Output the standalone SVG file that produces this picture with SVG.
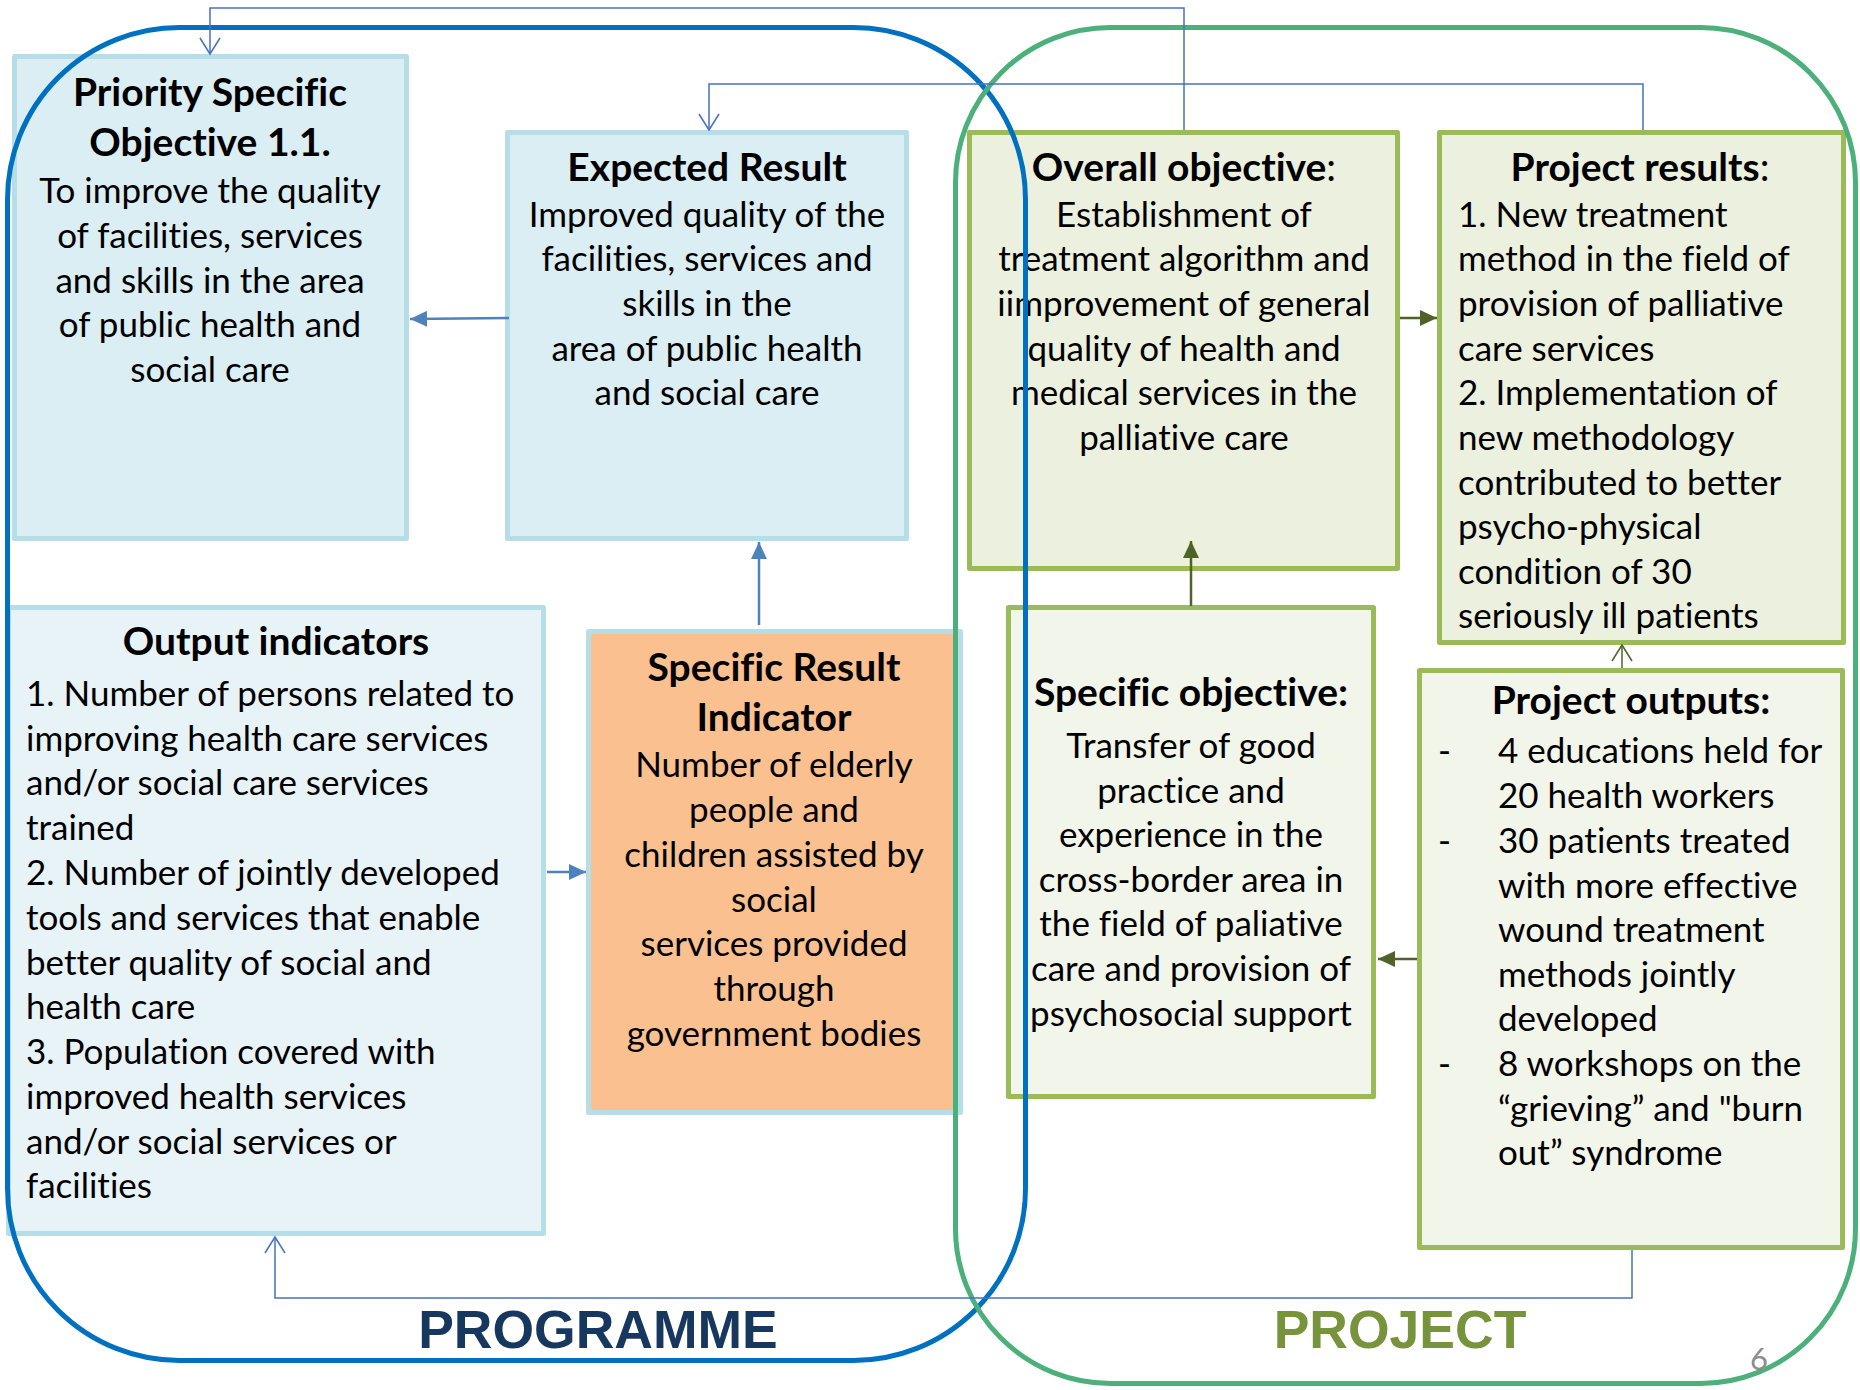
<svg xmlns="http://www.w3.org/2000/svg" width="1860" height="1390" viewBox="0 0 1860 1390">
<style>
.bx{stroke-width:5;stroke-linejoin:round}
.pb{fill:#DAEEF3;stroke:#B7DDE8}
.po{fill:#E8F3F8;stroke:#B7DDE8}
.or{fill:#FAC090;stroke:#B7DDE8}
.gb{fill:#EBF1DE;stroke:#9BBB59}
.gl{fill:#F1F5EA;stroke:#9BBB59}
text{font-family:Lato,"Open Sans","Liberation Sans",sans-serif;fill:#000;font-variant-ligatures:none}
.t{font-size:39px;font-weight:bold;text-anchor:middle}
.c{font-size:35px;text-anchor:middle}
.l{font-size:35px}
.n{font-weight:normal}
.thin{fill:none;stroke:#4472C4;stroke-width:1.5}
.fb{fill:none;stroke:#4F81BD;stroke-width:2.5}
.fg{fill:none;stroke:#4F6228;stroke-width:2.5}
.big{font-family:"Liberation Sans",Arial,sans-serif;font-size:53.5px;font-weight:bold;text-anchor:middle}
</style>
<defs>
<marker id="ab" markerUnits="userSpaceOnUse" markerWidth="18" markerHeight="16" refX="17" refY="8" orient="auto"><path d="M0,0 L17,8 L0,16 z" fill="#4F81BD"/></marker>
<marker id="ag" markerUnits="userSpaceOnUse" markerWidth="18" markerHeight="16" refX="17" refY="8" orient="auto"><path d="M0,0 L17,8 L0,16 z" fill="#4F6228"/></marker>
<marker id="ob" markerUnits="userSpaceOnUse" markerWidth="20" markerHeight="24" refX="17" refY="11" orient="auto"><path d="M1,1 L17,11 L1,21" fill="none" stroke="#4472C4" stroke-width="1.5"/></marker>
<marker id="og" markerUnits="userSpaceOnUse" markerWidth="20" markerHeight="24" refX="17" refY="11" orient="auto"><path d="M1,1 L17,11 L1,21" fill="none" stroke="#4F6228" stroke-width="1.5"/></marker>
</defs>
<rect width="1860" height="1390" fill="#fff"/>

<g id="priority">
<rect class="bx pb" x="14.5" y="56.5" width="392" height="482"/>
<text class="t" x="210" y="106">Priority Specific</text>
<text class="t" x="210" y="156">Objective 1.1.</text>
<text class="c" x="210" y="203">To improve the quality</text>
<text class="c" x="210" y="248">of facilities, services</text>
<text class="c" x="210" y="293">and skills in the area</text>
<text class="c" x="210" y="337">of public health and</text>
<text class="c" x="210" y="382">social care</text>
</g>

<g id="expected">
<rect class="bx pb" x="507.5" y="132.5" width="399" height="406"/>
<text class="t" x="707" y="181">Expected Result</text>
<text class="c" x="707" y="227">Improved quality of the</text>
<text class="c" x="707" y="271">facilities, services and</text>
<text class="c" x="707" y="316">skills in the</text>
<text class="c" x="707" y="361">area of public health</text>
<text class="c" x="707" y="405">and social care</text>
</g>

<g id="outputind">
<rect class="bx po" x="8.5" y="607.5" width="535" height="626"/>
<text class="t" x="276" y="655">Output indicators</text>
<text class="l" x="26" y="706">1. Number of persons related to</text>
<text class="l" x="26" y="751">improving health care services</text>
<text class="l" x="26" y="795">and/or social care services</text>
<text class="l" x="26" y="840">trained</text>
<text class="l" x="26" y="885">2. Number of jointly developed</text>
<text class="l" x="26" y="930">tools and services that enable</text>
<text class="l" x="26" y="975">better quality of social and</text>
<text class="l" x="26" y="1019">health care</text>
<text class="l" x="26" y="1064">3. Population covered with</text>
<text class="l" x="26" y="1109">improved health services</text>
<text class="l" x="26" y="1154">and/or social services or</text>
<text class="l" x="26" y="1198">facilities</text>
</g>

<g id="sri">
<rect class="bx or" x="588.5" y="631.5" width="372" height="481"/>
<text class="t" x="774" y="681">Specific Result</text>
<text class="t" x="774" y="731">Indicator</text>
<text class="c" x="774" y="777">Number of elderly</text>
<text class="c" x="774" y="822">people and</text>
<text class="c" x="774" y="867">children assisted by</text>
<text class="c" x="774" y="912">social</text>
<text class="c" x="774" y="956">services provided</text>
<text class="c" x="774" y="1001">through</text>
<text class="c" x="774" y="1046">government bodies</text>
</g>

<g id="overall">
<rect class="bx gb" x="969.5" y="132.5" width="428" height="436"/>
<text class="t" x="1184" y="181">Overall objective<tspan class="n">:</tspan></text>
<text class="c" x="1184" y="227">Establishment of</text>
<text class="c" x="1184" y="271">treatment algorithm and</text>
<text class="c" x="1184" y="316">iimprovement of general</text>
<text class="c" x="1184" y="361">quality of health and</text>
<text class="c" x="1184" y="405">medical services in the</text>
<text class="c" x="1184" y="450">palliative care</text>
</g>

<g id="results">
<rect class="bx gb" x="1439.5" y="132.5" width="404" height="510"/>
<text class="t" x="1640" y="181">Project results<tspan class="n">:</tspan></text>
<text class="l" x="1458" y="227">1. New treatment</text>
<text class="l" x="1458" y="271">method in the field of</text>
<text class="l" x="1458" y="316">provision of palliative</text>
<text class="l" x="1458" y="361">care services</text>
<text class="l" x="1458" y="405">2. Implementation of</text>
<text class="l" x="1458" y="450">new methodology</text>
<text class="l" x="1458" y="495">contributed to better</text>
<text class="l" x="1458" y="539">psycho-physical</text>
<text class="l" x="1458" y="584">condition of 30</text>
<text class="l" x="1458" y="628">seriously ill patients</text>
</g>

<g id="specobj">
<rect class="bx gl" x="1008.5" y="607.5" width="365" height="489"/>
<text class="t" x="1191" y="706">Specific objective:</text>
<text class="c" x="1191" y="758">Transfer of good</text>
<text class="c" x="1191" y="803">practice and</text>
<text class="c" x="1191" y="847">experience in the</text>
<text class="c" x="1191" y="892">cross-border area in</text>
<text class="c" x="1191" y="936">the field of paliative</text>
<text class="c" x="1191" y="981">care and provision of</text>
<text class="c" x="1191" y="1026">psychosocial support</text>
</g>

<g id="outputs">
<rect class="bx gl" x="1419.5" y="670.5" width="423" height="577"/>
<text class="t" x="1631" y="714">Project outputs:</text>
<text class="l" x="1438" y="763">-</text>
<text class="l" x="1498" y="763">4 educations held for</text>
<text class="l" x="1498" y="808">20 health workers</text>
<text class="l" x="1438" y="853">-</text>
<text class="l" x="1498" y="853">30 patients treated</text>
<text class="l" x="1498" y="898">with more effective</text>
<text class="l" x="1498" y="942">wound treatment</text>
<text class="l" x="1498" y="987">methods jointly</text>
<text class="l" x="1498" y="1031">developed</text>
<text class="l" x="1438" y="1076">-</text>
<text class="l" x="1498" y="1076">8 workshops on the</text>
<text class="l" x="1498" y="1121">“grieving” and "burn</text>
<text class="l" x="1498" y="1165">out” syndrome</text>
</g>

<g id="programme">
<rect x="7.5" y="27.5" width="1018" height="1333" rx="172" ry="172" fill="none" stroke="#0070C0" stroke-width="5"/>
<text class="big" x="598" y="1348" style="fill:#17375E">PROGRAMME</text>
</g>

<g id="project">
<rect x="955.5" y="27.5" width="900" height="1356" rx="155" ry="155" fill="none" stroke="#4BB07A" stroke-width="5"/>
<text class="big" x="1400" y="1348" style="fill:#77933C">PROJECT</text>
</g>

<g id="connectors">
<polyline class="thin" points="1184,130 1184,8 210,8 210,54" marker-end="url(#ob)"/>
<polyline class="thin" points="1643,130 1643,84 709,84 709,130" marker-end="url(#ob)"/>
<polyline class="thin" points="1632,1250 1632,1298 275,1298 275,1237" marker-end="url(#ob)"/>
<line class="fb" x1="509" y1="318" x2="410" y2="319" marker-end="url(#ab)"/>
<line class="fb" x1="759" y1="625" x2="759" y2="542" marker-end="url(#ab)"/>
<line class="fb" x1="547" y1="872" x2="586" y2="872" marker-end="url(#ab)"/>
<line class="fg" x1="1400" y1="318" x2="1437" y2="318" marker-end="url(#ag)"/>
<line class="fg" x1="1191" y1="606" x2="1191" y2="541" marker-end="url(#ag)"/>
<line class="fg" x1="1417" y1="959" x2="1378" y2="959" marker-end="url(#ag)"/>
<line class="thin" x1="1622" y1="668" x2="1622" y2="645" style="stroke:#4F6228" marker-end="url(#og)"/>
</g>

<text x="1750" y="1370" style="font-size:31px;fill:#8C8C8C">6</text>
</svg>
